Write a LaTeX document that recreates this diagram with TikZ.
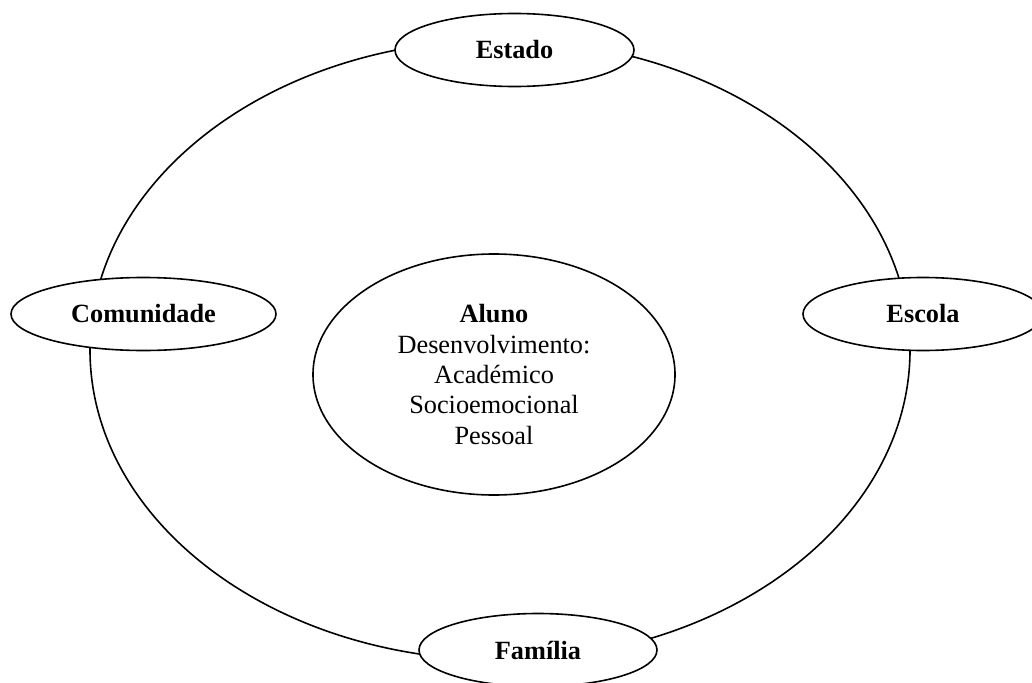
\documentclass[tikz,border=0pt]{standalone}
\usepackage{fontspec}
\setmainfont{Liberation Serif}
\usetikzlibrary{shapes.geometric}
\begin{document}
\begin{tikzpicture}[x=1pt,y=-1pt,
  ring/.style={line width=1.6pt},
  sat/.style={ellipse, draw, line width=1.6pt, fill=white, inner sep=0pt, minimum height=73pt, font=\fontsize{26.3}{30.3}\selectfont\bfseries},
  centre/.style={ellipse, draw, line width=1.6pt, fill=white, minimum width=362pt, minimum height=241pt, inner sep=0pt, align=center, font=\fontsize{26.3}{30.3}\selectfont}]
\useasboundingbox (0,0) rectangle (1032,682);
\draw[ring] (500,350) ellipse [x radius=410pt, y radius=310pt];
\node[sat, minimum width=239pt] (estado) at (514.5,50) {Estado};
\node[sat, minimum width=265pt] (comunidade) at (143.5,314) {Comunidade};
\node[sat, minimum width=240pt] (escola) at (923,314) {Escola};
\node[sat, minimum width=238pt] (familia) at (538,650) {Família};
\node[centre] (aluno) at (494,374.5) {\textbf{Aluno}\\Desenvolvimento:\\Académico\\Socioemocional\\Pessoal};
\end{tikzpicture}
\end{document}
